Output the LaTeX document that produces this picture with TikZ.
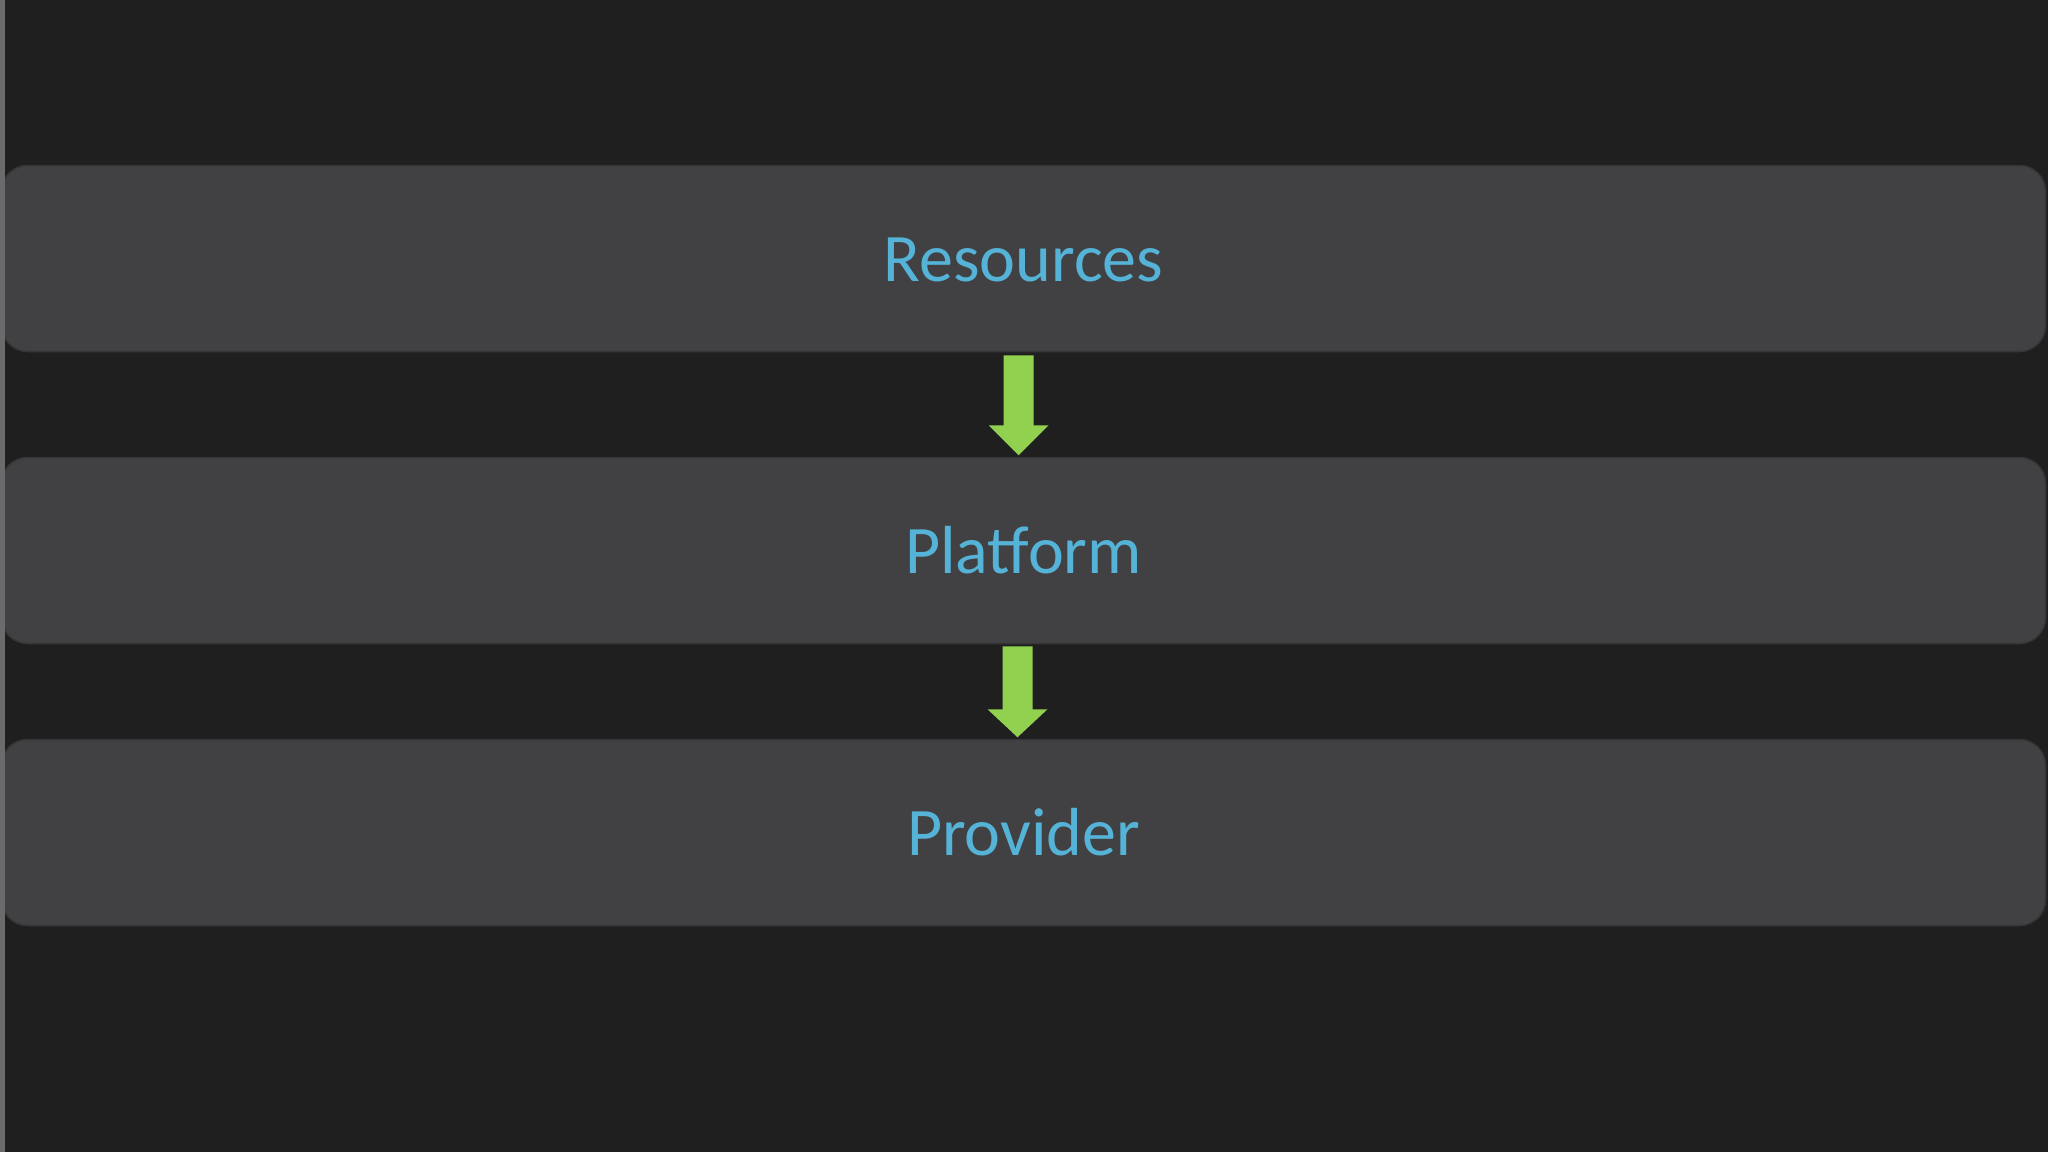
\documentclass[tikz,border=0pt]{standalone}
\usepackage{fontspec}
\setmainfont{Carlito}
\usetikzlibrary{calc}
\definecolor{bgc}{HTML}{1F1F1F}
\definecolor{boxc}{HTML}{414042}
\definecolor{boxline}{HTML}{363638}
\definecolor{txtc}{HTML}{55B3D7}
\definecolor{grn}{HTML}{92D050}
\definecolor{strip}{HTML}{6B6B6B}
\begin{document}
\begin{tikzpicture}[x=1pt,y=-1pt,
  layer/.style={draw=boxline,line width=1.5pt,fill=boxc,rounded corners=26pt,
    minimum width=2044pt,minimum height=186pt,inner sep=0pt,
    text=txtc,font=\fontsize{68}{80}\selectfont,text height=45pt,text depth=0pt},
  greenarrow/.style={fill=grn}]
\useasboundingbox (0,0) rectangle (2048,1152);
\fill[bgc] (0,0) rectangle (2048,1152);
\node[layer] (res) at (1023.5,258.5) {Resources};
\node[layer] (plat) at (1023.5,550.5) {Platform};
\node[layer] (prov) at (1023.5,832.5) {Provider};
% arrow 1
\coordinate (a1) at ($(res.south)+(-5,3)$);
\fill[greenarrow] ($(a1)+(-15,0)$) -- ($(a1)+(15,0)$) -- ($(a1)+(15,70)$) -- ($(a1)+(30,70)$)
  -- ($(a1)+(0,100)$) -- ($(a1)+(-30,70)$) -- ($(a1)+(-15,70)$) -- cycle;
% arrow 2
\coordinate (a2) at ($(plat.south)+(-6,2)$);
\fill[greenarrow] ($(a2)+(-15,0)$) -- ($(a2)+(15,0)$) -- ($(a2)+(15,63)$) -- ($(a2)+(30,63)$)
  -- ($(a2)+(0,91)$) -- ($(a2)+(-30,63)$) -- ($(a2)+(-15,63)$) -- cycle;
\fill[strip] (0,0) rectangle (5,1152);
\end{tikzpicture}
\end{document}
